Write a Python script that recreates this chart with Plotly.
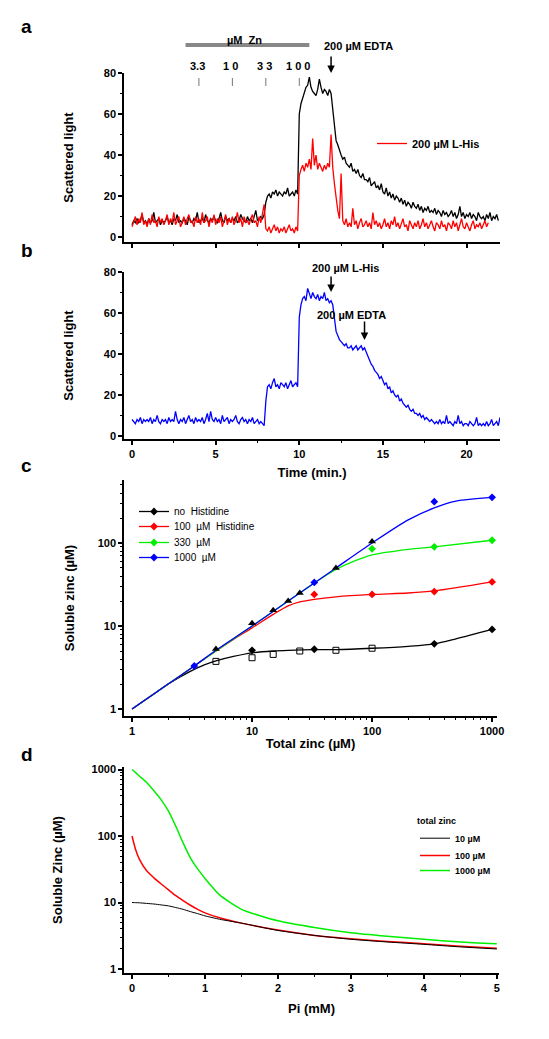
import numpy as np
import plotly.graph_objects as go

W, H = 549, 1039
PAGE_OFFSET = 8  # default page margin around the figure, in px

# ---------------- Panels a / b : scattered light vs time ----------------
t_step = 0.1  # min between samples
black_a = [6, 8, 7, 9, 7, 8, 11, 7, 8, 6,
           9, 7, 8, 12, 7, 8, 9, 6, 8, 7,
           8, 10, 7, 8, 6, 9, 8, 11, 7, 8,
           7, 9, 8, 6, 10, 8, 7, 9, 8, 12,
           7, 8, 9, 7, 11, 8, 7, 9, 8, 10,
           8, 7, 9, 12, 8, 7, 10, 8, 9, 7,
           9, 8, 10, 7, 8, 11, 9, 8, 7, 10,
           8, 9, 7, 10, 13, 8, 9, 10, 9, 11,
           17, 20, 21, 19, 22, 21, 23, 20, 22, 21,
           20, 22, 21, 24, 20, 21, 22, 20, 23, 21,
           60, 65, 68, 70, 73, 74, 78, 73, 71, 70,
           69, 72, 77, 73, 70, 72, 71, 69, 72, 70,
           63, 53, 47, 45, 42, 40, 38, 39, 36, 35,
           34, 36, 32, 33, 31, 33, 30, 29, 31, 28,
           28, 27, 29, 25, 26, 27, 24, 25, 23, 26,
           22, 21, 24, 20, 22, 19, 21, 18, 20, 19,
           17, 19, 16, 18, 15, 17, 16, 14, 17, 15,
           14, 16, 13, 15, 12, 14, 13, 15, 12, 13,
           12, 14, 11, 13, 12, 10, 13, 11, 12, 10,
           11, 13, 10, 12, 9, 11, 15, 10, 12, 9,
           11, 10, 12, 9, 11, 10, 8, 12, 10, 9,
           10, 8, 11, 9, 12, 8, 10, 9, 11, 8]
red_a = [5, 8, 10, 6, 9, 7, 12, 6, 8, 5,
         9, 6, 11, 7, 8, 5, 10, 7, 9, 6,
         8, 11, 6, 9, 7, 12, 6, 8, 10, 5,
         7, 10, 6, 9, 11, 7, 8, 5, 10, 7,
         9, 6, 12, 7, 8, 10, 5, 9, 7, 11,
         6, 9, 7, 10, 5, 8, 11, 6, 9, 7,
         10, 6, 8, 12, 7, 9, 5, 10, 7, 8,
         6, 9, 11, 7, 8, 5, 10, 7, 12, 16,
         4, 3, 5, 2, 4, 6, 3, 5, 2, 4,
         3, 5, 2, 4, 6, 3, 4, 2, 5, 3,
         30, 33, 35, 32, 36, 34, 38, 33, 48, 35,
         40, 33, 36, 34, 32, 35, 33, 36, 34, 50,
         34, 26, 18, 13, 9, 31, 8, 6, 9, 5,
         7, 5, 14, 6, 8, 4, 7, 9, 5, 6,
         8, 5, 7, 4, 12, 6, 8, 5, 7, 4,
         6, 9, 5, 7, 4, 8, 6, 10, 5, 7,
         4, 7, 9, 5, 6, 3, 8, 6, 4, 7,
         5, 8, 4, 6, 9, 5, 7, 4, 6, 8,
         5, 3, 7, 6, 4, 8, 5, 6, 3, 7,
         6, 4, 8, 5, 7, 3, 6, 9, 5, 4,
         7, 5, 3, 6, 8, 4, 6, 5, 7, 4,
         6, 8, 5, 7]
blue_b = [8, 7, 6, 8, 7, 9, 6, 8, 7, 8,
          7, 9, 6, 8, 7, 10, 7, 6, 8, 7,
          8, 6, 9, 7, 8, 7, 12, 8, 6, 8,
          7, 9, 6, 8, 10, 7, 8, 6, 9, 7,
          8, 7, 9, 6, 8, 11, 7, 12, 8, 7,
          9, 7, 8, 6, 10, 7, 8, 9, 6, 8,
          7, 8, 10, 7, 6, 8, 9, 7, 8, 6,
          8, 7, 9, 6, 7, 8, 6, 7, 6, 5,
          17, 24, 25, 23, 26, 28, 24, 25, 23, 26,
          25, 24, 26, 23, 25, 27, 24, 25, 26, 24,
          58, 64, 67, 68, 66, 72, 69, 67, 70, 68,
          67, 69, 66, 68, 67, 70, 66, 67, 65, 66,
          64, 57, 51, 49, 47, 46, 45, 44, 45, 43,
          43, 44, 42, 43, 44, 42, 43, 44, 42, 43,
          41, 39, 37, 35, 34, 32, 31, 30, 28, 29,
          27, 25, 26, 23, 24, 21, 22, 20, 19, 20,
          17, 18, 16, 15, 14, 15, 13, 12, 13, 11,
          11, 10, 11, 9, 10, 8, 9, 8, 7, 8,
          7, 6, 7, 6, 8, 6, 7, 6, 10, 6,
          7, 6, 5, 7, 6, 10, 6, 7, 5, 6,
          6, 5, 7, 6, 5, 6, 9, 5, 6, 5,
          6, 5, 7, 5, 6, 8, 5, 6, 7, 5, 9]
t_black = np.round(np.arange(len(black_a)) * t_step, 2)
t_red = np.round(np.arange(len(red_a)) * t_step, 2)
t_blue = np.round(np.arange(len(blue_b)) * t_step, 2)

zn_add_times = [4, 6, 8, 10]
zn_labels = ["3.3", "1 0", "3 3", "1 0 0"]
edta_time_a = 11.9
his_time_b = 11.9
edta_time_b = 13.9

# ---------------- Panel c : soluble vs total zinc ----------------
c_black_x = [1, 1.5, 2, 3, 4, 5, 7, 10, 15, 20, 33, 50, 100, 200, 330, 500, 1000]
c_black_y = [1, 1.5, 2.0, 2.8, 3.4, 3.8, 4.3, 4.75, 5.0, 5.1, 5.2, 5.2, 5.4, 5.7, 6.1, 7.0, 9.1]
c_red_x = [1, 2, 3.3, 5, 7, 10, 15, 20, 25, 33, 50, 100, 200, 330, 1000]
c_red_y = [1, 2, 3.3, 5.0, 6.9, 9.5, 13.8, 17.5, 19.5, 21.0, 22.5, 24, 25, 26.5, 34]
c_green_x = [1, 2, 3.3, 5, 10, 20, 33, 50, 70, 100, 200, 330, 1000]
c_green_y = [1, 2, 3.3, 5, 10, 20, 33, 48, 60, 72, 84, 90, 108]
c_blue_x = [1, 2, 3.3, 5, 10, 20, 33, 50, 100, 200, 330, 500, 1000]
c_blue_y = [1, 2, 3.3, 5.1, 10, 20, 33, 50, 100, 190, 265, 320, 355]

pt_black_sq_x = [5, 10, 15, 25, 50, 100]
pt_black_sq_y = [3.75, 4.15, 4.55, 5.0, 5.1, 5.4]
pt_black_dia_x = [10, 33, 330, 1000]
pt_black_dia_y = [5.1, 5.25, 6.1, 9.1]
pt_tri_x = [5, 10, 15, 20, 25, 50, 100]
pt_tri_y = [5.3, 10.8, 15.5, 20, 25, 50, 104]
pt_red_x = [33, 100, 330, 1000]
pt_red_y = [24, 24, 26, 34]
pt_green_x = [100, 330, 1000]
pt_green_y = [85, 90, 108]
pt_blue_x = [3.3, 33, 330, 1000]
pt_blue_y = [3.3, 33.5, 315, 355]

# ---------------- Panel d : soluble zinc vs Pi ----------------
pi_mM = [0, 0.05, 0.1, 0.2, 0.3, 0.4, 0.5, 0.6, 0.7, 0.8, 0.9, 1.0, 1.2, 1.5, 2.0, 2.5, 3.0, 3.5, 4.0, 4.5, 5.0]
d_10 = [10, 9.95, 9.9, 9.7, 9.5, 9.2, 8.9, 8.4, 7.9, 7.3, 6.8, 6.3, 5.6, 4.9, 3.8, 3.2, 2.8, 2.55, 2.35, 2.15, 2.0]
d_100 = [100, 62, 45, 30, 23.5, 19, 15.5, 12.7, 10.7, 9.1, 7.9, 7.0, 5.9, 4.9, 3.85, 3.2, 2.85, 2.6, 2.4, 2.2, 2.05]
d_1000 = [1000, 900, 800, 640, 480, 350, 236, 140, 79, 47, 32, 23, 13, 7.9, 5.3, 4.2, 3.5, 3.1, 2.8, 2.55, 2.4]

FONT = "Liberation Sans"


def px_x(p):
    return (p - PAGE_OFFSET) / W


def px_y(p):
    return 1 - (p - PAGE_OFFSET) / H


fig = go.Figure()

# panel a
fig.add_trace(go.Scatter(x=t_black, y=black_a, mode="lines", line=dict(color="black", width=1.3),
                         xaxis="x", yaxis="y", showlegend=False, name="no His"))
fig.add_trace(go.Scatter(x=t_red, y=red_a, mode="lines", line=dict(color="#ff0000", width=1.3),
                         xaxis="x", yaxis="y", name="200 µM L-His", legend="legend"))
# panel b
fig.add_trace(go.Scatter(x=t_blue, y=blue_b, mode="lines", line=dict(color="#0000ff", width=1.3),
                         xaxis="x2", yaxis="y2", showlegend=False))

# panel c curves
for cx, cy, col in [(c_black_x, c_black_y, "black"), (c_red_x, c_red_y, "#ff0000"),
                    (c_green_x, c_green_y, "#00ee00"), (c_blue_x, c_blue_y, "#0000ff")]:
    fig.add_trace(go.Scatter(x=cx, y=cy, mode="lines", line=dict(color=col, width=1.3, shape="spline", smoothing=0.8),
                             xaxis="x3", yaxis="y3", showlegend=False))
# panel c points
fig.add_trace(go.Scatter(x=pt_black_sq_x, y=pt_black_sq_y, mode="markers",
                         marker=dict(symbol="square-open", size=6, color="black", line=dict(width=1)),
                         xaxis="x3", yaxis="y3", showlegend=False))
for px_, py_, col in [(pt_black_dia_x, pt_black_dia_y, "black"), (pt_red_x, pt_red_y, "#ff0000"),
                      (pt_green_x, pt_green_y, "#00ee00"), (pt_blue_x, pt_blue_y, "#0000ff")]:
    fig.add_trace(go.Scatter(x=px_, y=py_, mode="markers", marker=dict(symbol="diamond", size=6, color=col),
                             xaxis="x3", yaxis="y3", showlegend=False))
fig.add_trace(go.Scatter(x=pt_tri_x, y=pt_tri_y, mode="markers",
                         marker=dict(symbol="triangle-up", size=7, color="black"),
                         xaxis="x3", yaxis="y3", showlegend=False))
# panel c legend entries (one small legend per row)
c_legend_names = ["no  Histidine", "100  µM  Histidine", "330  µM", "1000  µM"]
c_legend_cols = ["black", "#ff0000", "#00ee00", "#0000ff"]
c_legend_ids = ["legend2", "legend4", "legend5", "legend6"]
for nm, col, lid in zip(c_legend_names, c_legend_cols, c_legend_ids):
    fig.add_trace(go.Scatter(x=[None], y=[None], mode="lines+markers", name=nm,
                             line=dict(color=col, width=1.3), marker=dict(symbol="diamond", size=6, color=col),
                             xaxis="x3", yaxis="y3", legend=lid))

# panel d
fig.add_trace(go.Scatter(x=pi_mM, y=d_100, mode="lines", line=dict(color="#ff0000", width=1.5, shape="spline", smoothing=0.6),
                         name="100 µM", legend="legend7", xaxis="x4", yaxis="y4"))
fig.add_trace(go.Scatter(x=pi_mM, y=d_1000, mode="lines", line=dict(color="#00ee00", width=1.5, shape="spline", smoothing=0.6),
                         name="1000 µM", legend="legend8", xaxis="x4", yaxis="y4"))
fig.add_trace(go.Scatter(x=pi_mM, y=d_10, mode="lines", line=dict(color="black", width=1, shape="spline", smoothing=0.6),
                         name="10 µM", legend="legend3", xaxis="x4", yaxis="y4"))

tickfont = dict(family=FONT, size=11, color="black", weight="bold")
titlefont = dict(family=FONT, size=13, color="black", weight="bold")
base = dict(showline=True, linecolor="black", linewidth=1.5, ticks="outside", ticklen=4, tickwidth=1.5,
            tickcolor="black", showgrid=False, zeroline=False, tickfont=tickfont, automargin=False)
minor_lin = dict(ticks="outside", ticklen=2, tickwidth=1, tickcolor="black")
log_minor = [k * 10 ** e for e in range(3) for k in range(2, 10)]

leg_c_font = dict(family=FONT, size=10, color="black")
leg_d_font = dict(family=FONT, size=9, color="black", weight="bold")
clear = "rgba(0,0,0,0)"

fig.update_layout(
    width=W, height=H, margin=dict(l=0, r=0, t=0, b=0, autoexpand=False),
    paper_bgcolor="white", plot_bgcolor="white",
    xaxis=dict(base, domain=[px_x(124), px_x(500)], range=[-0.48, 22], anchor="y", dtick=5,
               showticklabels=False, minor=dict(minor_lin, dtick=2.5)),
    yaxis=dict(base, domain=[px_y(242), px_y(73)], range=[-2.4, 80], anchor="x", dtick=20,
               minor=dict(minor_lin, dtick=10),
               title=dict(text="Scattered light", font=titlefont, standoff=27)),
    xaxis2=dict(base, domain=[px_x(124), px_x(500)], range=[-0.48, 22], anchor="y2", dtick=5,
                minor=dict(minor_lin, dtick=2.5),
                title=dict(text="Time (min.)", font=titlefont, standoff=9)),
    yaxis2=dict(base, domain=[px_y(439), px_y(272)], range=[-1.5, 80], anchor="x2", dtick=20,
                minor=dict(minor_lin, dtick=10),
                title=dict(text="Scattered light", font=titlefont, standoff=27)),
    xaxis3=dict(base, type="log", domain=[px_x(124), px_x(497)], range=[-0.067, 3.041], anchor="y3",
                tickvals=[1, 10, 100, 1000], minor=dict(minor_lin, tickvals=log_minor),
                title=dict(text="Total zinc (µM)", font=titlefont, standoff=3)),
    yaxis3=dict(base, type="log", domain=[px_y(716), px_y(480)], range=[-0.084, 2.759], anchor="x3",
                tickvals=[1, 10, 100], minor=dict(minor_lin, tickvals=log_minor),
                title=dict(text="Soluble zinc (µM)", font=titlefont, standoff=20)),
    xaxis4=dict(base, domain=[px_x(124), px_x(499)], range=[-0.11, 5.03], anchor="y4", dtick=1,
                minor=dict(minor_lin, dtick=0.5),
                title=dict(text="Pi (mM)", font=titlefont, standoff=11)),
    yaxis4=dict(base, type="log", domain=[px_y(973), px_y(767)], range=[-0.06, 3.038], anchor="x4",
                tickvals=[1, 10, 100, 1000], minor=dict(minor_lin, tickvals=log_minor),
                title=dict(text="Soluble Zinc (µM)", font=titlefont, standoff=26)),
    legend=dict(x=px_x(372), y=px_y(129), xanchor="left", yanchor="top", bgcolor=clear,
                font=dict(family=FONT, size=11, color="black", weight="bold")),
    legend2=dict(x=px_x(134), y=px_y(497), xanchor="left", yanchor="top", bgcolor=clear, font=leg_c_font),
    legend4=dict(x=px_x(134), y=px_y(512), xanchor="left", yanchor="top", bgcolor=clear, font=leg_c_font),
    legend5=dict(x=px_x(134), y=px_y(528), xanchor="left", yanchor="top", bgcolor=clear, font=leg_c_font),
    legend6=dict(x=px_x(134), y=px_y(543), xanchor="left", yanchor="top", bgcolor=clear, font=leg_c_font),
    legend3=dict(x=px_x(415), y=px_y(812), xanchor="left", yanchor="top", bgcolor=clear,
                 title=dict(text="total zinc", font=leg_d_font), font=leg_d_font),
    legend7=dict(x=px_x(415), y=px_y(841), xanchor="left", yanchor="top", bgcolor=clear, font=leg_d_font),
    legend8=dict(x=px_x(415), y=px_y(856), xanchor="left", yanchor="top", bgcolor=clear, font=leg_d_font),
)

ann_font = dict(family=FONT, size=11, color="black", weight="bold")
annotations = []
# panel letters
for letter, yy in [("a", 26), ("b", 250), ("c", 466), ("d", 754)]:
    annotations.append(dict(text=letter, x=px_x(19), y=px_y(yy), xref="paper", yref="paper", showarrow=False,
                            xanchor="left", yanchor="middle", font=dict(family=FONT, size=19, color="black", weight="bold")))
# zinc additions
annotations.append(dict(text="µM  Zn", x=np.mean([zn_add_times[0], zn_add_times[-1]]) - 0.3, y=px_y(32), xref="x", yref="paper",
                        showarrow=False, font=ann_font))
for tt, lab in zip(zn_add_times, zn_labels):
    annotations.append(dict(text=lab, x=tt - 0.1, y=px_y(58), xref="x", yref="paper", showarrow=False, font=ann_font))
annotations.append(dict(text="200 µM EDTA", x=px_x(358), y=px_y(38), xref="paper", yref="paper",
                        showarrow=False, font=ann_font))
annotations.append(dict(text="", x=edta_time_a, y=px_y(73), xref="x", yref="paper", ax=0, ay=-18,
                        showarrow=True, arrowhead=2, arrowsize=1, arrowwidth=1.5, arrowcolor="black"))
annotations.append(dict(text="200 µM L-His", x=px_x(345), y=px_y(260), xref="paper", yref="paper",
                        showarrow=False, font=ann_font))
annotations.append(dict(text="", x=his_time_b, y=px_y(292), xref="x2", yref="paper", ax=0, ay=-17,
                        showarrow=True, arrowhead=2, arrowsize=1, arrowwidth=1.5, arrowcolor="black"))
annotations.append(dict(text="200 µM EDTA", x=px_x(388), y=px_y(307), xref="paper", yref="paper",
                        showarrow=False, font=ann_font))
annotations.append(dict(text="", x=edta_time_b, y=px_y(340), xref="x2", yref="paper", ax=0, ay=-20,
                        showarrow=True, arrowhead=2, arrowsize=1, arrowwidth=1.5, arrowcolor="black"))
fig.update_layout(annotations=annotations)

shapes = [dict(type="line", xref="x", yref="paper", x0=zn_add_times[0] - 0.8, x1=zn_add_times[-1] + 0.6,
               y0=px_y(45), y1=px_y(45), line=dict(color="#888888", width=4))]
for tt in zn_add_times:
    shapes.append(dict(type="line", xref="x", yref="paper", x0=tt, x1=tt, y0=px_y(78), y1=px_y(86),
                       line=dict(color="#777777", width=1)))
fig.update_layout(shapes=shapes)

fig.write_html("out.html")
